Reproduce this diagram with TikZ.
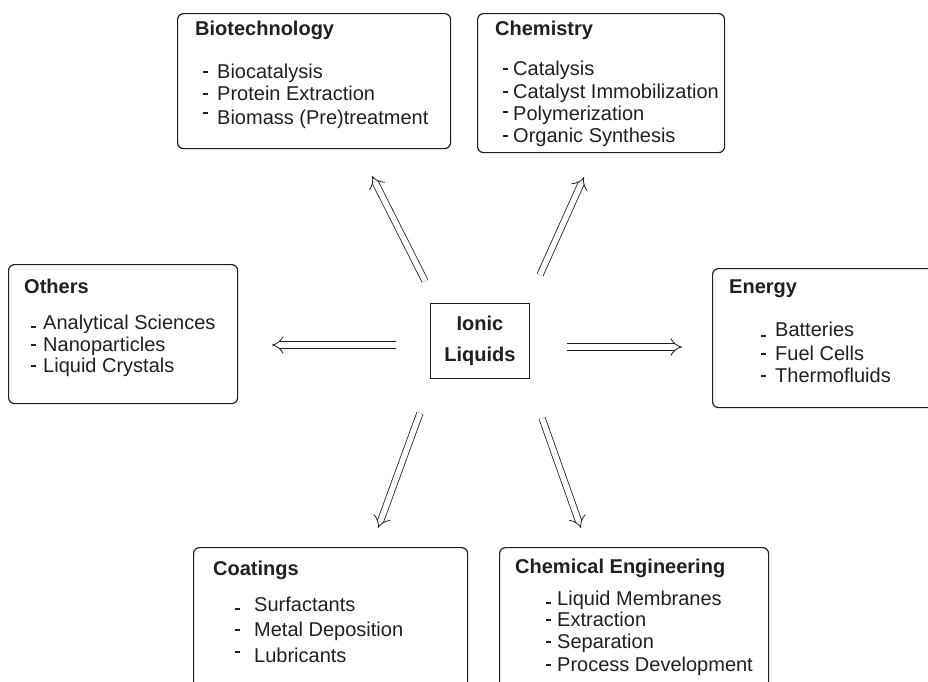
\documentclass[tikz,border=0pt]{standalone}
\usepackage{fontspec}
\setmainfont{Liberation Sans}
\usetikzlibrary{arrows.meta}
\definecolor{ink}{HTML}{231F20}
\newcommand{\fsz}{\fontsize{20}{24}\selectfont}
% \li{dash raise}{dash-to-text gap}{text}
\newcommand{\li}[3]{\makebox[#2][l]{\hspace{0.7pt}\rule[\dimexpr#1+5.2pt\relax]{5.3pt}{1.6pt}}#3}
\tikzset{
  box/.style={draw=ink, line width=1.2pt, rounded corners=6pt, anchor=north west, inner sep=0pt},
  ttl/.style={anchor=base west, inner sep=0pt, font=\fsz\bfseries, text=ink},
  itm/.style={anchor=base west, inner sep=0pt, font=\fsz, text=ink},
  arr/.style={draw=ink, double=white, double distance=5.5pt, line width=0.8pt, -{Implies}},
}
\begin{document}
\begin{tikzpicture}[x=1pt,y=-1pt]
\clip (0,0) rectangle (928,681);
\fill[white] (0,0) rectangle (928,681);

% centre
\node[draw=ink, line width=1.2pt, minimum width=99pt, minimum height=75pt, anchor=north west, inner sep=0pt] (il) at (430,303) {};
\node[anchor=base, inner sep=0pt, font=\fsz\bfseries, text=ink] (il1) at (480,330) {Ionic};
\node[anchor=base, inner sep=0pt, font=\fsz\bfseries, text=ink] (il2) at (480,361) {Liquids};

% Biotechnology
\node[box, minimum width=273pt, minimum height=135pt] (bio) at (177,13) {};
\node[ttl] (biot) at (195,35) {Biotechnology};
\node[itm] (bio1) at (202,78) {\li{0pt}{15pt}{Biocatalysis}};
\node[itm] (bio2) at (202,100) {\li{0pt}{15pt}{Protein Extraction}};
\node[itm] (bio3) at (202,124) {\li{5pt}{15pt}{Biomass (Pre)treatment}};

% Chemistry
\node[box, minimum width=247pt, minimum height=139pt] (chem) at (477,13) {};
\node[ttl] (chemt) at (495,35) {Chemistry};
\node[itm] (chem1) at (502,75) {\li{0pt}{11pt}{Catalysis}};
\node[itm] (chem2) at (502,98) {\li{0pt}{11pt}{Catalyst Immobilization}};
\node[itm] (chem3) at (502,120) {\li{2pt}{11pt}{Polymerization}};
\node[itm] (chem4) at (502,142) {\li{0pt}{11pt}{Organic Synthesis}};

% Others
\node[box, minimum width=229pt, minimum height=139pt] (oth) at (8,264) {};
\node[ttl] (otht) at (24,293) {Others};
\node[itm] (oth1) at (30,329) {\li{-4pt}{13pt}{Analytical Sciences}};
\node[itm] (oth2) at (30,351) {\li{0pt}{13pt}{Nanoparticles}};
\node[itm] (oth3) at (30,372) {\li{0pt}{13pt}{Liquid Crystals}};

% Energy
\node[box, minimum width=240pt, minimum height=139pt] (en) at (712,268) {};
\node[ttl] (ent) at (729,293) {Energy};
\node[itm] (en1) at (760,336) {\li{-6pt}{15pt}{Batteries}};
\node[itm] (en2) at (760,360) {\li{0pt}{15pt}{Fuel Cells}};
\node[itm] (en3) at (760,382) {\li{0pt}{15pt}{Thermofluids}};

% Coatings
\node[box, minimum width=274pt, minimum height=160pt] (coat) at (193,547) {};
\node[ttl] (coatt) at (213,575) {Coatings};
\node[itm] (coat1) at (234,611) {\li{-4pt}{20pt}{Surfactants}};
\node[itm] (coat2) at (234,636) {\li{0pt}{20pt}{Metal Deposition}};
\node[itm] (coat3) at (234,662) {\li{4pt}{20pt}{Lubricants}};

% Chemical Engineering
\node[box, minimum width=269pt, minimum height=160pt] (ce) at (499,547) {};
\node[ttl] (cet) at (515,573) {Chemical Engineering};
\node[itm] (ce1) at (545,605) {\li{-4pt}{12pt}{Liquid Membranes}};
\node[itm] (ce2) at (545,626) {\li{0pt}{12pt}{Extraction}};
\node[itm] (ce3) at (545,648) {\li{0pt}{12pt}{Separation}};
\node[itm] (ce4) at (545,671) {\li{0pt}{12pt}{Process Development}};

% arrow ends
\coordinate (aL0) at (396,345);
\coordinate (aL1) at (272,345);
\coordinate (aR0) at (567,347);
\coordinate (aR1) at (682,347);
\coordinate (aUL0) at (425,281);
\coordinate (aUL1) at (372,176);
\coordinate (aUR0) at (540,275);
\coordinate (aUR1) at (584,177);
\coordinate (aDL0) at (420,413);
\coordinate (aDL1) at (378,528);
\coordinate (aDR0) at (542,418);
\coordinate (aDR1) at (581,528);

\draw[arr] (aL0) -- (aL1);
\draw[arr] (aR0) -- (aR1);
\draw[arr] (aUL0) -- (aUL1);
\draw[arr] (aUR0) -- (aUR1);
\draw[arr] (aDL0) -- (aDL1);
\draw[arr] (aDR0) -- (aDR1);
\end{tikzpicture}
\end{document}
